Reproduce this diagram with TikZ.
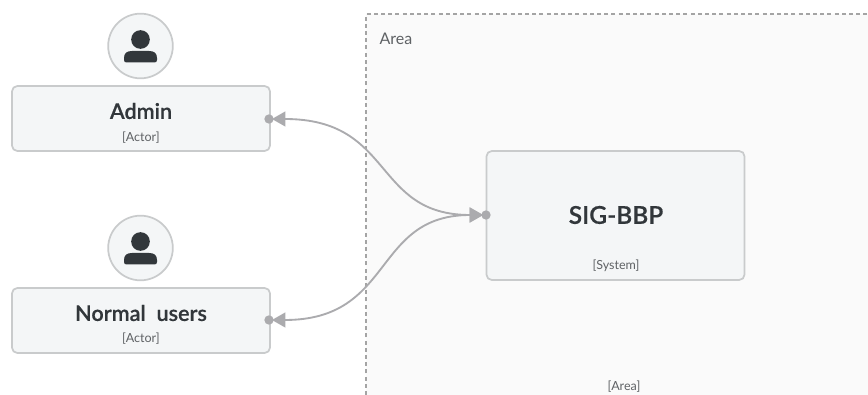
\documentclass[tikz,border=0pt]{standalone}
\usepackage{fontspec}
\setmainfont{Lato}[BoldFont={Lato Semibold},BoldFeatures={FakeBold=0.5}]
\usetikzlibrary{arrows.meta}
\definecolor{boxfill}{HTML}{F4F6F7}
\definecolor{boxline}{HTML}{C9CBCC}
\definecolor{areafill}{HTML}{FAFAFA}
\definecolor{arealine}{HTML}{A4A4A4}
\definecolor{linkgray}{HTML}{ABABAE}
\definecolor{titletext}{HTML}{32373B}
\definecolor{tagtext}{HTML}{5F6265}
\tikzset{
    actorbox/.style={draw=boxline, fill=boxfill, line width=1.3pt, rounded corners=4pt, minimum width=193.5pt, minimum height=48.75pt, inner sep=0pt},
    systembox/.style={actorbox, minimum width=193.5pt, minimum height=96.75pt},
    actorcircle/.style={circle, draw=boxline, fill=boxfill, line width=1.3pt, minimum size=48.5pt, inner sep=0pt},
    port/.style={circle, fill=linkgray, minimum size=7pt, inner sep=0pt},
    title/.style={font=\fontsize{16.2}{19}\selectfont\bfseries, text=titletext, inner sep=0pt},
    tag/.style={font=\fontsize{9.4}{11}\selectfont, text=tagtext, inner sep=0pt},
    link/.style={draw=linkgray, line width=1.4pt, shorten <=-1.5pt, shorten >=-1.5pt, {Triangle[length=10pt,width=11pt]}-{Triangle[length=10pt,width=11pt]}}
}
\begin{document}
\begin{tikzpicture}[x=0.75pt, y=-0.75pt]
    \useasboundingbox (0,0) rectangle (868,395);

    % Draw area
    \fill[areafill] (366,14) rectangle (868,395);
    \draw[arealine, line width=1.6pt, dash pattern=on 3pt off 2.4pt] (366,395) -- (366,14) -- (868,14);
    \node[font=\fontsize{12}{14}\selectfont, text=tagtext, inner sep=0pt] (arealabel) at (396,39) {Area};
    \node[tag] (areatag) at (624,387) {[Area]};

    % Draw actors
    \node[actorcircle] (admincircle) at (140.5,46) {};
    \fill[titletext] (140.5,39.5) circle (7pt);
    \fill[titletext] (124,58) .. controls (124,53) and (127,51) .. (132,51) -- (149,51) .. controls (154,51) and (157,53) .. (157,58) -- (157,60) .. controls (157,62) and (156,62.5) .. (154,62.5) -- (127,62.5) .. controls (125,62.5) and (124,62) .. (124,60) -- cycle;
    \node[actorbox] (admin) at (141,118.5) {};
    \node[title] (admintitle) at (141,111) {Admin};
    \node[tag] (admintag) at (141,138) {[Actor]};

    \node[actorcircle] (usercircle) at (140.5,248) {};
    \fill[titletext] (140.5,241.5) circle (7pt);
    \fill[titletext] (124,260) .. controls (124,255) and (127,253) .. (132,253) -- (149,253) .. controls (154,253) and (157,255) .. (157,260) -- (157,262) .. controls (157,264) and (156,264.5) .. (154,264.5) -- (127,264.5) .. controls (125,264.5) and (124,264) .. (124,262) -- cycle;
    \node[actorbox] (users) at (141,320.5) {};
    \node[title] (userstitle) at (141,313) {Normal\ \ users};
    \node[tag] (userstag) at (141,339) {[Actor]};

    % Draw system
    \node[systembox] (system) at (615.5,215.5) {};
    \node[title, font=\fontsize{18.4}{22}\selectfont\bfseries] (systemtitle) at (616,215) {SIG-BBP};
    \node[tag] (systemtag) at (616,266) {[System]};

    % Ports
    \node[port] (adminport) at (269,119) {};
    \node[port] (usersport) at (269,320) {};
    \node[port] (systemport) at (486,215) {};

    % Links
    \draw[link] (adminport.east) .. controls (395,119) and (372,215) .. (systemport.west);
    \draw[link] (usersport.east) .. controls (395,320) and (372,215) .. (systemport.west);
\end{tikzpicture}
\end{document}
